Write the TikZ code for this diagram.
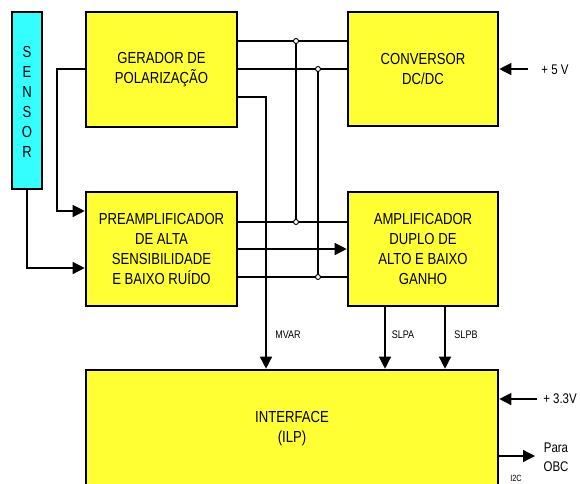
\documentclass[tikz,border=0pt]{standalone}
\usepackage{fontspec}
\setmainfont{Liberation Sans}[FakeStretch=0.82]
\usetikzlibrary{arrows.meta}
\definecolor{boxyellow}{RGB}{255,255,51}
\definecolor{sensorcyan}{RGB}{51,255,255}
\begin{document}
\begin{tikzpicture}[x=1pt,y=-1pt,
    block/.style={draw, line width=2.6pt, fill=boxyellow, align=center, inner sep=0pt,
                  font=\fontsize{16}{20}\selectfont},
    sbox/.style={draw, line width=1.6pt, fill=sensorcyan, inner sep=0pt,
                 minimum width=30pt, minimum height=177pt},
    jnode/.style={draw, circle, fill=white, line width=0.9pt, minimum size=5pt, inner sep=0pt},
    wire/.style={line width=1.3pt},
    arr/.style={wire, -{Triangle[length=12pt,width=12pt]}},
    sig/.style={font=\fontsize{11}{12}\selectfont},
    pwr/.style={font=\fontsize{14}{19}\selectfont, align=center}
]
\useasboundingbox (0,0) rectangle (580,483);

% blocks
\node[sbox] (sen) at (27,100.5) {};
\foreach \l [count=\k] in {S,E,N,S,O,R} {
  \node[font=\fontsize{16}{20}\selectfont, inner sep=0pt] (sl\k) at (27,32+\k*20) {\l};
}
\node[block, minimum width=151pt, minimum height=115pt] (ger) at (161.5,69.5) {GERADOR DE\\POLARIZAÇÃO};
\node[block, minimum width=150pt, minimum height=114pt] (conv) at (423,69) {CONVERSOR\\DC/DC};
\node[block, minimum width=151pt, minimum height=114pt] (pre) at (161.5,249)
  {PREAMPLIFICADOR\\DE ALTA\\SENSIBILIDADE\\E BAIXO RUÍDO};
\node[block, minimum width=150pt, minimum height=114pt] (amp) at (423,249)
  {AMPLIFICADOR\\DUPLO DE\\ALTO E BAIXO\\GANHO};
\node[block, minimum width=412pt, minimum height=118pt] (int) at (292,429) {INTERFACE\\(ILP)};

% junctions and free ends
\coordinate (g1) at (237,41);
\coordinate (g2) at (237,69);
\coordinate (g3) at (237,97);
\coordinate (gl) at (86,69);
\coordinate (bend) at (266,97);
\coordinate (lft) at (57,69);
\coordinate (p1) at (237,222);
\coordinate (p2) at (237,249);
\coordinate (p3) at (237,277);
\coordinate (v5) at (528,69);
\coordinate (v33) at (537,399);
\coordinate (obc) at (535,456);

% wires
\draw[wire] (g1) -- (conv.west |- g1);
\draw[wire] (g2) -- (conv.west |- g2);
\draw[wire] (p1) -- (amp.west |- p1);
\draw[wire] (p3) -- (amp.west |- p3);
\draw[arr] (p2) -- (amp.west |- p2);
\draw[wire] (296,41) -- (296,222);
\draw[wire] (318,69) -- (318,277);
\draw[arr] (g3) -- (bend) -- (bend |- int.north);
\draw[arr] (gl) -- (lft) -- (lft |- 0,211) -- (pre.west |- 0,211);
\draw[arr] (sen.south) -- (27,268) -- (pre.west |- 0,268);
\draw[arr] (amp.south -| 385,0) -- (385,0 |- int.north);
\draw[arr] (amp.south -| 445,0) -- (445,0 |- int.north);
\draw[arr] (v5) -- (conv.east |- v5);
\draw[arr] (v33) -- (int.east |- v33);
\draw[arr] (int.east |- obc) -- (obc);

\node[jnode] (j1) at (296,41) {};
\node[jnode] (j2) at (318,69) {};
\node[jnode] (j3) at (296,222) {};
\node[jnode] (j4) at (318,277) {};

% labels
\node[sig] (mvar) at (288,335) {MVAR};
\node[sig] (slpa) at (403,335) {SLPA};
\node[sig] (slpb) at (466,335) {SLPB};
\node[pwr] (t5) at (555,70) {+ 5 V};
\node[pwr] (t33) at (560,399) {+ 3.3V};
\node[pwr] (tobc) at (556,457.5) {Para\\OBC};
\node[font=\fontsize{9}{10}\selectfont] (ti2c) at (516,478) {I2C};
\end{tikzpicture}
\end{document}
